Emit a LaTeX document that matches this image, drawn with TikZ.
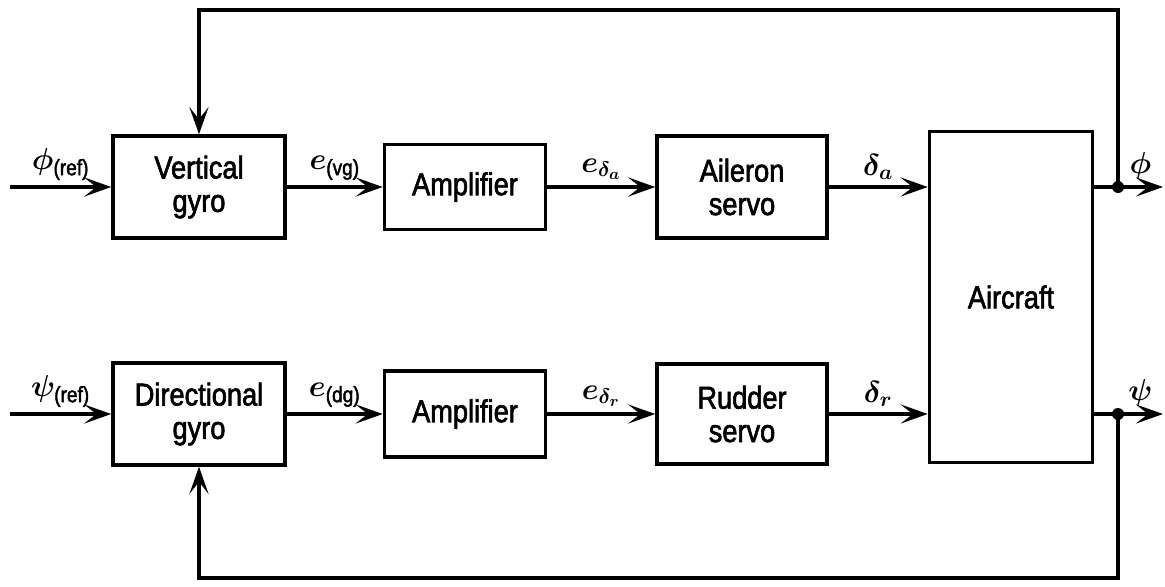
\documentclass[tikz,border=0pt]{standalone}
\usepackage{amsmath}
\usepackage{fontspec}
\usepackage{tikz}
\usetikzlibrary{arrows.meta}
\newfontfamily\blockfont[FakeStretch=0.86,FakeBold=2]{Liberation Sans}
\newcommand{\subtxt}[1]{\text{\blockfont #1}}

\begin{document}
\begin{tikzpicture}[x=0.02cm,y=-0.02cm,blk/.style={draw=black,line width=2pt,fill=white,align=center,font=\blockfont\fontsize{18}{19}\selectfont,inner sep=0pt},sig/.style={-{Stealth[length=5.4mm,width=3.8mm,inset=2.4mm]},line width=2.2pt},lbl/.style={font=\fontsize{18}{20}\selectfont\boldmath,inner sep=3pt}]
\useasboundingbox (0,0) rectangle (1165,586);
\node[blk,minimum width=3.44cm,minimum height=2.04cm] (vgyro) at (199,187) {Vertical\\gyro};
\node[blk,minimum width=3.22cm,minimum height=1.70cm] (ampa) at (465,187) {Amplifier};
\node[blk,minimum width=3.40cm,minimum height=2.04cm] (aservo) at (742,187) {Aileron\\servo};
\node[blk,minimum width=3.26cm,minimum height=6.62cm] (aircraft) at (1011,297) {Aircraft};
\node[blk,minimum width=3.44cm,minimum height=2.04cm] (dgyro) at (199,414) {Directional\\gyro};
\node[blk,minimum width=3.22cm,minimum height=1.72cm] (ampr) at (465,414) {Amplifier};
\node[blk,minimum width=3.40cm,minimum height=2.00cm] (rservo) at (742,414) {Rudder\\servo};
\coordinate (phiin) at (10,187);
\coordinate (psiin) at (10,414);
\coordinate (phidot) at (1118,187);
\coordinate (psidot) at (1118,414);
\coordinate (phiout) at (1163,187);
\coordinate (psiout) at (1163,414);
\coordinate (ftop) at (199,10);
\coordinate (fbot) at (199,578);
% roll channel
\draw[sig] (phiin) -- node[lbl,above]{$\phi_{\subtxt{(ref)}}$} (vgyro);
\draw[sig] (vgyro) -- node[lbl,above]{$e_{\subtxt{(vg)}}$} (ampa);
\draw[sig] (ampa) -- node[lbl,above]{$e_{\delta_a}$} (aservo);
\draw[sig] (aservo) -- node[lbl,above]{$\delta_a$} (aservo -| aircraft.west);
\draw[line width=2.2pt] (aircraft.east |- phidot) -- (phidot);
\draw[sig] (phidot) -- node[lbl,above]{$\phi$} (phiout);
\draw[sig] (phidot) |- (ftop) -- (vgyro);
% yaw channel
\draw[sig] (psiin) -- node[lbl,above]{$\psi_{\subtxt{(ref)}}$} (dgyro);
\draw[sig] (dgyro) -- node[lbl,above]{$e_{\subtxt{(dg)}}$} (ampr);
\draw[sig] (ampr) -- node[lbl,above]{$e_{\delta_r}$} (rservo);
\draw[sig] (rservo) -- node[lbl,above]{$\delta_r$} (rservo -| aircraft.west);
\draw[line width=2.2pt] (aircraft.east |- psidot) -- (psidot);
\draw[sig] (psidot) -- node[lbl,above]{$\psi$} (psiout);
\draw[sig] (psidot) |- (fbot) -- (dgyro);
\fill (phidot) circle (6);
\fill (psidot) circle (6);
\end{tikzpicture}
\end{document}
